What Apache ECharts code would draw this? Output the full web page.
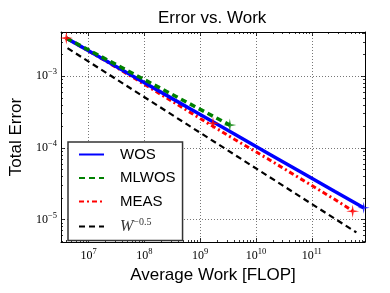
<!DOCTYPE html>
<html><head><meta charset="utf-8">
<script src="https://cdn.jsdelivr.net/npm/echarts@6/dist/echarts.min.js"></script>
<style>html,body{margin:0;padding:0;background:#fff}#c{width:390px;height:293px}</style>
</head><body><div id="c"></div>
<script>
const titleText = 'Error vs. Work';
const xName = 'Average Work [FLOP]';
const yName = 'Total Error';
const xMin = 3.21e6, xMax = 8.99e11;
const yMin = 4.85e-6, yMax = 4.15e-3;
const xMajor = [1e7, 1e8, 1e9, 1e10, 1e11];
const xMinor = [4e6,5e6,6e6,7e6,8e6,9e6, 2e7,3e7,4e7,5e7,6e7,7e7,8e7,9e7, 2e8,3e8,4e8,5e8,6e8,7e8,8e8,9e8,
  2e9,3e9,4e9,5e9,6e9,7e9,8e9,9e9, 2e10,3e10,4e10,5e10,6e10,7e10,8e10,9e10, 2e11,3e11,4e11,5e11,6e11,7e11,8e11];
const yMajor = [1e-5, 1e-4, 1e-3];
const yMinor = [5e-6,6e-6,7e-6,8e-6,9e-6, 2e-5,3e-5,4e-5,5e-5,6e-5,7e-5,8e-5,9e-5,
  2e-4,3e-4,4e-4,5e-4,6e-4,7e-4,8e-4,9e-4, 2e-3,3e-3,4e-3];

const seriesNames = ['WOS', 'MLWOS', 'MEAS', 'W^-0.5'];
const wosX = [4.0e6, 1.6e7, 6.4e7, 2.6e8, 1.0e9, 4.1e9, 1.6e10, 6.6e10, 2.6e11, 8.5e11];
const wosY = [3.41e-3, 1.84e-3, 9.93e-4, 5.32e-4, 2.92e-4, 1.56e-4, 8.51e-5, 4.53e-5, 2.46e-5, 1.46e-5];
const mlwosX = [4.0e6, 1.6e7, 6.4e7, 2.6e8, 1.0e9, 3.4e9];
const mlwosY = [3.41e-3, 1.92e-3, 1.08e-3, 6.04e-4, 3.45e-4, 2.08e-4];
const measX = [4.0e6, 1.6e7, 6.4e7, 2.6e8, 1.0e9, 4.1e9, 1.6e10, 6.6e10, 2.6e11, 5.4e11];
const measY = [3.41e-3, 1.82e-3, 9.55e-4, 4.9e-4, 2.57e-4, 1.32e-4, 7.1e-5, 3.63e-5, 1.9e-5, 1.32e-5];
const refX = [4.2e6, 6.3e11];
const refY = [2.47e-3, 6.6e-6];
// end markers
const starRedX = [4.0e6, 1.7e9, 5.4e11];
const starRedY = [3.41e-3, 2.2e-4, 1.3e-5];
const starGreenX = [3.4e9];
const starGreenY = [2.08e-4];
const plusBlueX = [8.5e11];
const plusBlueY = [1.46e-5];

const zip = (a, b) => a.map((v, i) => [v, b[i]]);
const STAR = 'path://M0,-10 L1.6,-1.6 L10,0 L1.6,1.6 L0,10 L-1.6,1.6 L-10,0 L-1.6,-1.6 Z';
const SERIF = 'Liberation Serif';
const SANS = 'Liberation Sans';

function expLabel(v) {
  const e = Math.round(Math.log10(v));
  return '{b|10}{s|' + String(e).replace('-', '\u2212') + '}';
}
const labelRich = {
  b: { fontFamily: SERIF, fontSize: 12, color: '#000' },
  s: { fontFamily: SERIF, fontSize: 8.5, color: '#000', padding: [0, 0, 8, 0] }
};

function xAxis(pos, ticks, len, isMain) {
  return {
    type: 'log', position: pos, min: xMin, max: xMax, gridIndex: 0,
    axisLine: { show: isMain, lineStyle: { color: '#000', width: 1 } },
    axisTick: { show: true, inside: true, length: len, customValues: ticks, lineStyle: { color: '#000', width: 0.8 } },
    axisLabel: isMain && pos === 'bottom' ? { show: true, customValues: xMajor, formatter: expLabel, rich: labelRich, margin: 5 } : { show: false },
    splitLine: isMain && pos === 'bottom' ? { show: true, lineStyle: { color: '#777', width: 1, type: [1, 2] } } : { show: false },
    minorTick: { show: false }, minorSplitLine: { show: false },
    name: isMain && pos === 'bottom' ? xName : '',
    nameLocation: 'middle', nameGap: 16,
    nameTextStyle: { fontFamily: SANS, fontSize: 17, color: '#000' }
  };
}
function yAxis(pos, ticks, len, isMain) {
  return {
    type: 'log', position: pos, min: yMin, max: yMax, gridIndex: 0,
    axisLine: { show: isMain, lineStyle: { color: '#000', width: 1 } },
    axisTick: { show: true, inside: true, length: len, customValues: ticks, lineStyle: { color: '#000', width: 0.8 } },
    axisLabel: isMain && pos === 'left' ? { show: true, customValues: yMajor, formatter: expLabel, rich: labelRich, margin: 4 } : { show: false },
    splitLine: isMain && pos === 'left' ? { show: true, lineStyle: { color: '#777', width: 1, type: [1, 2] } } : { show: false },
    minorTick: { show: false }, minorSplitLine: { show: false },
    name: isMain && pos === 'left' ? yName : '',
    nameLocation: 'middle', nameGap: 27, nameRotate: 90,
    nameTextStyle: { fontFamily: SANS, fontSize: 17, color: '#000' }
  };
}

const chart = echarts.init(document.getElementById('c'), null, { renderer: 'canvas' });
chart.setOption({
  animation: false,
  backgroundColor: '#fff',
  title: { text: titleText, left: 158, top: 10, padding: 0,
    textStyle: { fontFamily: SANS, fontSize: 17, fontWeight: 'normal', color: '#000' } },
  grid: { left: 61, right: 25, top: 32, bottom: 51, show: false },
  xAxis: [xAxis('bottom', xMajor, 4, true), xAxis('top', xMajor, 4, true), xAxis('bottom', xMinor, 2, false), xAxis('top', xMinor, 2, false)],
  yAxis: [yAxis('left', yMajor, 4, true), yAxis('right', yMajor, 4, true), yAxis('left', yMinor, 2, false), yAxis('right', yMinor, 2, false)],
  legend: {
    orient: 'vertical', left: 68, top: 142,
    padding: [5, 7, 5, 10], itemGap: 8.5, itemWidth: 25, itemHeight: 14,
    backgroundColor: '#fff', borderColor: '#333', borderWidth: 1.5, borderRadius: 0,
    data: seriesNames,
    itemStyle: { opacity: 0 },
    formatter: function (n) { return n === 'W^-0.5' ? '{i|W}{sup|\u22120.5}' : n; },
    textStyle: { fontFamily: SANS, fontSize: 15, color: '#000', padding: [0, 0, 0, 11], lineHeight: 14,
      rich: {
        i: { fontFamily: SERIF, fontStyle: 'italic', fontSize: 16, color: '#333', lineHeight: 14 },
        sup: { fontFamily: SERIF, fontSize: 10, color: '#333', padding: [0, 0, 8, 0], lineHeight: 14 }
      } }
  },
  series: [
    { name: 'W^-0.5', type: 'line', data: zip(refX, refY), showSymbol: false, symbol: 'none', z: 2,
      lineStyle: { color: '#000', width: 2.2, type: [6, 4] }, itemStyle: { color: '#000' } },
    { name: 'MEAS', type: 'line', data: zip(measX, measY), showSymbol: false, symbol: 'none', z: 3,
      lineStyle: { color: '#ff0000', width: 3, type: [5, 3, 2, 3] }, itemStyle: { color: '#ff0000' } },
    { name: 'WOS', type: 'line', data: zip(wosX, wosY), showSymbol: false, symbol: 'none', z: 4,
      lineStyle: { color: '#0000ff', width: 3.5 }, itemStyle: { color: '#0000ff' } },
    { name: 'MLWOS', type: 'line', data: zip(mlwosX, mlwosY), showSymbol: false, symbol: 'none', z: 5,
      lineStyle: { color: '#008000', width: 3.5, type: [6, 4] }, itemStyle: { color: '#008000' } },
    { name: 'MEASmk', type: 'scatter', data: zip(starRedX, starRedY), symbol: STAR, symbolSize: 13, z: 6,
      itemStyle: { color: '#ff0000', opacity: 0.85 }, silent: true },
    { name: 'MLWOSmk', type: 'scatter', data: zip(starGreenX, starGreenY), symbol: STAR, symbolSize: 13, z: 6,
      itemStyle: { color: '#008000' }, silent: true },
    { name: 'WOSmk', type: 'scatter', data: zip(plusBlueX, plusBlueY), symbol: STAR, symbolSize: 12, z: 6,
      itemStyle: { color: '#0000ff' }, silent: true }
  ]
});
</script></body></html>
